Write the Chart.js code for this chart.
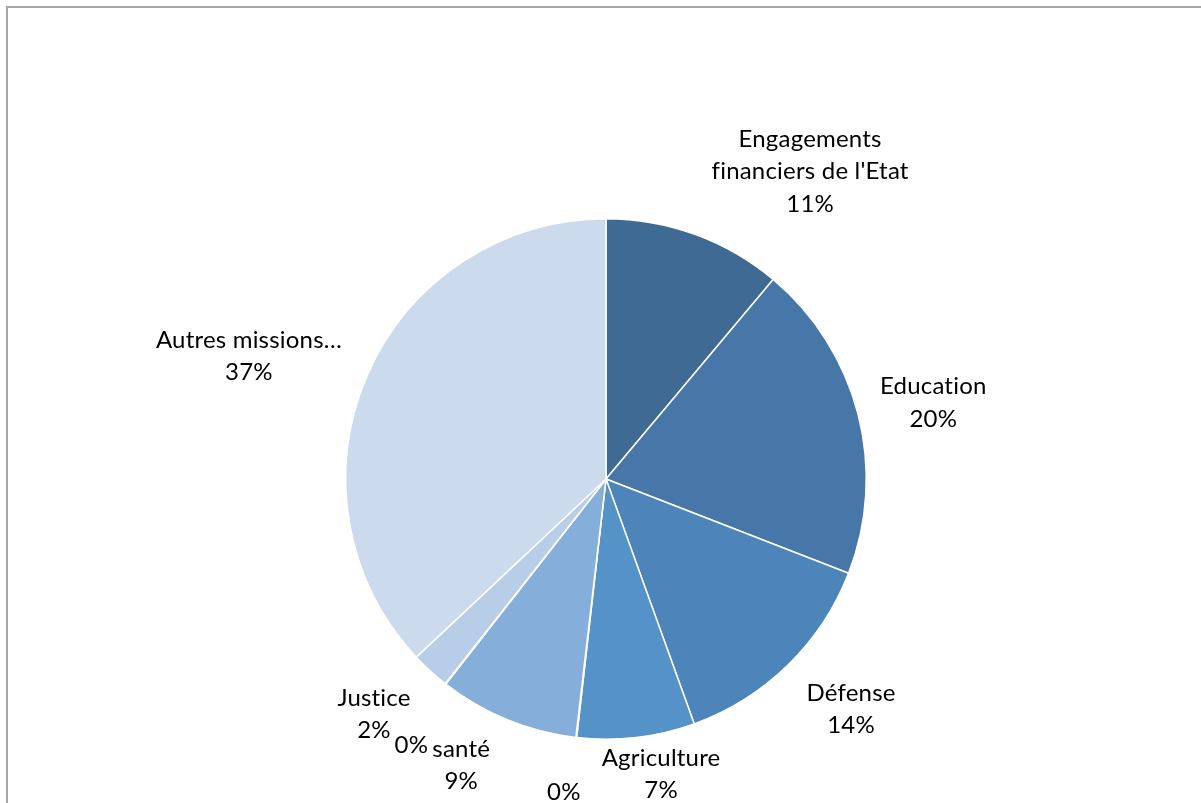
<!DOCTYPE html>
<html>
<head>
<meta charset="utf-8">
<script src="https://cdn.jsdelivr.net/npm/chart.js@4"></script>
<style>
  html, body { margin: 0; padding: 0; background: #fff; overflow: hidden; }
  #wrap { position: relative; width: 1201px; height: 803px; }
  #frame {
    position: absolute; left: 6px; top: 6px; width: 1300px; height: 900px;
    border-top: 2px solid #a6a6a6; border-left: 2px solid #a6a6a6;
    pointer-events: none;
  }
  canvas { position: absolute; left: 0; top: 0; }
</style>
</head>
<body>
<div id="wrap">
  <div id="frame"></div>
  <canvas id="pie-chart" width="1201" height="803"></canvas>
</div>
<script>
// categories and shares (%), clockwise from 12 o'clock
const categories = [
  "Engagements financiers de l'Etat",
  "Education",
  "Défense",
  "Agriculture",
  "",
  "santé",
  "",
  "Justice",
  "Autres missions…"
];
const shares = [11.1, 19.8, 13.6, 7.3, 0.05, 8.7, 0.05, 2.4, 37.0];

// how each label is wrapped (the long name breaks in two lines)
const labelLines = [
  ["Engagements", "financiers de l'Etat"],
  ["Education"],
  ["Défense"],
  ["Agriculture"],
  [],
  ["santé"],
  [],
  ["Justice"],
  ["Autres missions…"]
];

const sliceColors = ["#3e6a94", "#4677a8", "#4d84b9", "#5592c7", "#ffffff", "#86aedb", "#ffffff", "#b8cde8", "#ccdaed"];

// label placement: distance in radii and small angle nudge (deg) from slice middle
const labelDist = [1.418, 1.291, 1.292, 1.154, 1.214, 1.233, 1.267, 1.270, 1.451];
const labelNudge = [13.6, 1.3, -2.5, -3.9, 1.1, 4.5, -1.9, 2.1, -4.4];

const total = shares.reduce((a, b) => a + b, 0);

const pieLabels = {
  id: "pieLabels",
  afterDatasetsDraw(chart) {
    const c = chart.ctx;
    const arcs = chart.getDatasetMeta(0).data;
    c.save();
    c.font = "24px Lato";
    c.letterSpacing = "0.2px"; // also keeps Lato from joining fi / ti
    c.fillStyle = "#000";
    c.textAlign = "center";
    c.textBaseline = "middle";
    const lineH = 32.5;
    arcs.forEach((arc, i) => {
      const mid = (arc.startAngle + arc.endAngle) / 2 + labelNudge[i] * Math.PI / 180;
      const d = arc.outerRadius * labelDist[i];
      const x = arc.x + Math.cos(mid) * d;
      const y = arc.y + Math.sin(mid) * d;
      const pct = Math.round(shares[i] / total * 100) + "%";
      const lines = labelLines[i].concat([pct]);
      const top = y - (lines.length - 1) * lineH / 2;
      lines.forEach((t, k) => c.fillText(t, x, top + k * lineH));
    });
    c.restore();
  }
};

new Chart(document.getElementById("pie-chart"), {
  type: "pie",
  data: {
    labels: categories,
    datasets: [{
      data: shares,
      backgroundColor: sliceColors,
      borderColor: "#ffffff",
      borderWidth: 1.5,
      hoverOffset: 0
    }]
  },
  options: {
    responsive: false,
    animation: false,
    events: [],
    layout: { padding: { top: 218, bottom: 63, left: 11, right: 0 } },
    plugins: {
      legend: { display: false },
      tooltip: { enabled: false }
    }
  },
  plugins: [pieLabels]
});
</script>
</body>
</html>
